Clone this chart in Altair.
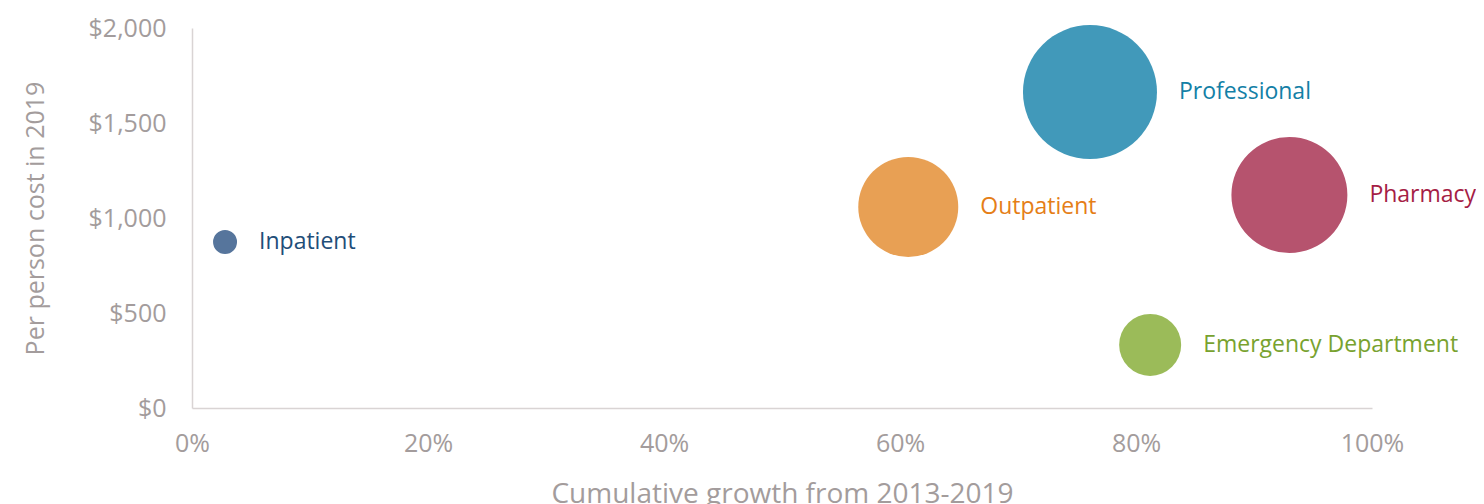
import altair as alt
import pandas as pd
import math

categories = ["Inpatient", "Outpatient", "Professional", "Pharmacy", "Emergency Department"]
growth = [0.028, 0.607, 0.761, 0.930, 0.812]
cost = [874, 1058, 1663, 1121, 332]
weight = [3.2, 55.7, 100, 74.9, 21.4]
bubble_colors = ["#56759C", "#E8A054", "#4199BA", "#B6536E", "#9BBB59"]
label_colors = ["#1F4E79", "#E57E17", "#1380A6", "#A51D45", "#78A22F"]

df = pd.DataFrame({"cat": categories, "growth": growth, "cost": cost, "weight": weight})

MAX_SIZE = 17956  # vega circle: diameter = sqrt(size)
FONT = "Open Sans"
GRAY = "#A39C9C"

x = alt.X("growth:Q", scale=alt.Scale(domain=[0, 1], nice=False, zero=True),
          axis=alt.Axis(title="Cumulative growth from 2013-2019", format=".0%", values=[0, 0.2, 0.4, 0.6, 0.8, 1.0],
                        grid=False, ticks=False, tickSize=0, domainColor="#D9D4D4", domainWidth=1.5,
                        labelColor=GRAY, labelFont=FONT, labelFontSize=25, labelPadding=35,
                        labelBaseline="middle", labelFlush=False,
                        titleColor=GRAY, titleFont=FONT, titleFontSize=28, titleFontWeight="normal",
                        titleBaseline="alphabetic", titleX=590, titleY=94, titleAnchor="middle"))
y = alt.Y("cost:Q", scale=alt.Scale(domain=[0, 2000], nice=False),
          axis=alt.Axis(title="Per person cost in 2019", format="$,.0f", values=[0, 500, 1000, 1500, 2000],
                        grid=False, ticks=False, tickSize=0, domainColor="#D9D4D4", domainWidth=1.5,
                        labelColor=GRAY, labelFont=FONT, labelFontSize=25, labelPadding=26,
                        labelBaseline="middle", labelFlush=False,
                        titleColor=GRAY, titleFont=FONT, titleFontSize=25, titleFontWeight="normal",
                        titleAngle=-90, titleBaseline="middle", titleX=-157, titleY=190, titleAlign="center"))

bubbles = alt.Chart(df).mark_circle(opacity=1).encode(
    x=x, y=y,
    size=alt.Size("weight:Q", scale=alt.Scale(domain=[0, 100], range=[0, MAX_SIZE]), legend=None),
    color=alt.Color("cat:N", scale=alt.Scale(domain=categories, range=bubble_colors), legend=None),
)

layers = [bubbles]
for i, c in enumerate(categories):
    size = weight[i] / 100 * MAX_SIZE
    r = math.sqrt(size) / 2
    t = alt.Chart(df[df.cat == c]).mark_text(
        align="left", baseline="middle", dx=r + 22, font=FONT, fontSize=23, color=label_colors[i]
    ).encode(x="growth:Q", y="cost:Q", text="cat:N")
    layers.append(t)

chart = alt.layer(*layers).properties(
    width=1180, height=380,
    autosize=alt.AutoSizeParams(type="none"),
    padding={"left": 184, "top": 20, "right": 104, "bottom": 96},
).configure_view(stroke=None)

chart.save("out.html", embed_options={"renderer": "svg", "actions": False})
